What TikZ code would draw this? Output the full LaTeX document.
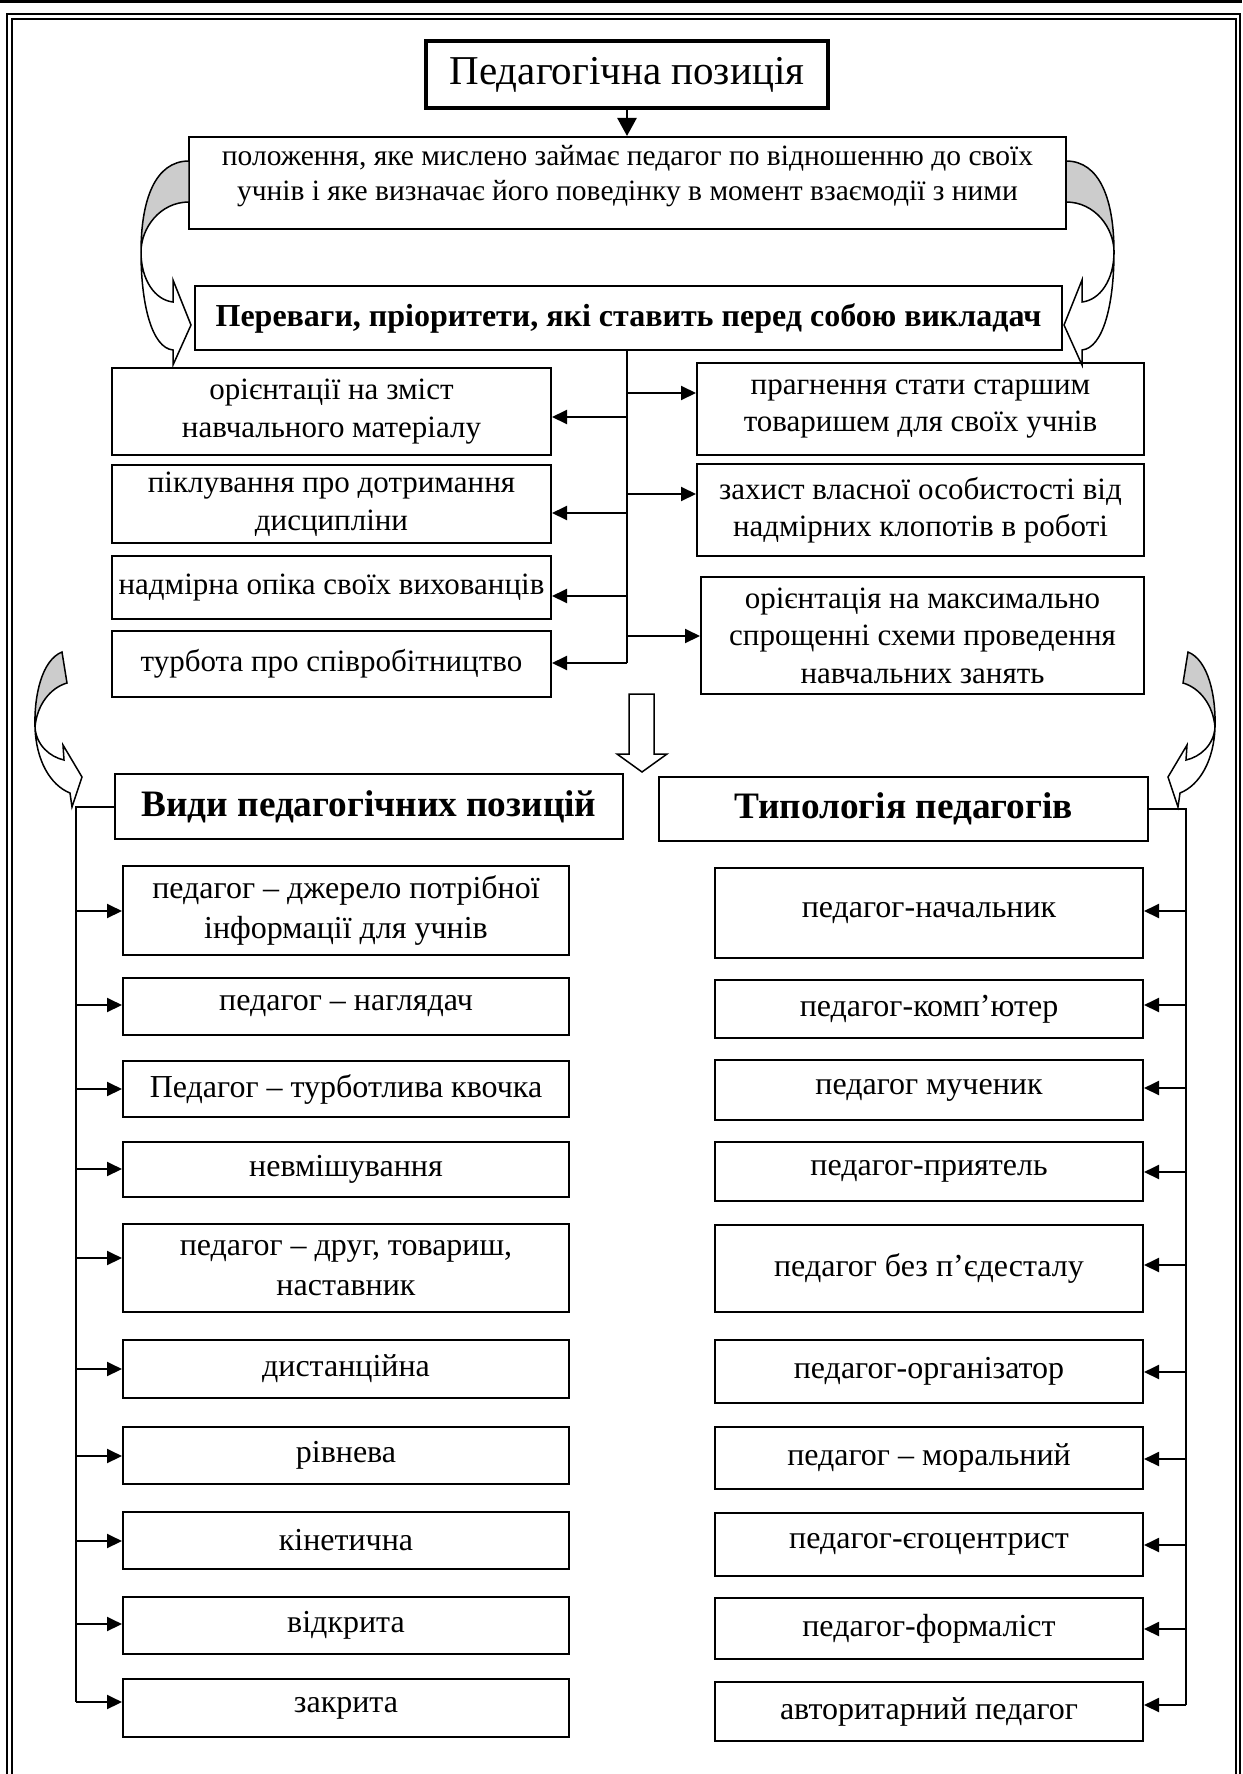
\documentclass[tikz,border=0pt]{standalone}
\usepackage{fontspec}
\setmainfont{Liberation Serif}
\usetikzlibrary{arrows.meta}
\definecolor{arrgray}{RGB}{204,204,204}
\newcommand{\deffont}{\fontsize{29.5}{35}\selectfont}
\newcommand{\midfont}{\fontsize{31}{37.5}\selectfont}
\newcommand{\lowfont}{\fontsize{32}{40}\selectfont}
\newcommand{\titlefont}{\fontsize{41}{48}\selectfont}
\newcommand{\headfont}{\fontsize{37.3}{44}\selectfont\bfseries}
\newcommand{\priorfont}{\fontsize{32}{38}\selectfont\bfseries}
\newcommand{\raisedtext}[2]{\raisebox{#1}[\height][\depth]{\begin{tabular}{@{}c@{}}#2\end{tabular}}}
\begin{document}
\begin{tikzpicture}[x=1pt,y=-1pt,
  box/.style={draw, line width=2pt, inner sep=0pt, align=center, font=\lowfont},
  midbox/.style={box, font=\midfont},
  conn/.style={line width=2pt},
  arr/.style={line width=2pt, -{Triangle[length=15pt,width=14pt]}},
  bigarr/.style={line width=2.5pt, -{Triangle[length=18pt,width=19pt]}},
  curv/.style={line width=1.5pt, line join=miter},
]
\useasboundingbox (0,0) rectangle (1242,1774);
% page rule and frame
\draw[line width=3pt] (0,1.5) -- (1242,1.5);
\draw[line width=2.5pt] (7,1780) -- (7,14) -- (1240,14) -- (1240,1780);
\draw[line width=1.2pt] (12,1780) -- (12,19) -- (1236,19) -- (1236,1780);

% top part
\node[box, line width=4.5pt, minimum width=402, minimum height=67, font=\titlefont] (title) at (627,74.5) {Педагогічна позиція};
\node[box, minimum width=877, minimum height=92, font=\deffont] (def) at (627.5,183)
  {\raisedtext{7pt}{положення, яке мислено займає педагог по відношенню до своїх\\учнів і яке визначає його поведінку в момент взаємодії з ними}};
\node[box, minimum width=867, minimum height=64, font=\priorfont] (prior) at (628.5,318)
  {Переваги, пріоритети, які ставить перед собою викладач};
\draw[bigarr] (title.south -| 627,0) -- (def.north -| 627,0);

% curved arrows top
\draw[curv, fill=arrgray] (189,161) .. controls (155,161) and (141,200) .. (141,252)
  .. controls (141,228) and (160,202) .. (189,202) -- cycle;
\draw[curv, fill=white] (141,252) .. controls (141,280) and (155,300) .. (173,302)
  -- (173,280) -- (191,325) -- (173,365) -- (173,350)
  .. controls (152,348) and (141,305) .. (141,252) -- cycle;
\begin{scope}[shift={(1255,0)}, xscale=-1]
\draw[curv, fill=arrgray] (189,161) .. controls (155,161) and (141,200) .. (141,252)
  .. controls (141,228) and (160,202) .. (189,202) -- cycle;
\draw[curv, fill=white] (141,252) .. controls (141,280) and (155,300) .. (173,302)
  -- (173,280) -- (191,325) -- (173,365) -- (173,350)
  .. controls (152,348) and (141,305) .. (141,252) -- cycle;
\end{scope}

% middle boxes
\node[midbox, minimum width=439, minimum height=87] (m1) at (331.5,411.5) {орієнтації на зміст\\навчального матеріалу};
\node[midbox, minimum width=439, minimum height=78] (m2) at (331.5,504) {піклування про дотримання\\дисципліни};
\node[midbox, minimum width=439, minimum height=63] (m3) at (331.5,587.5) {надмірна опіка своїх вихованців};
\node[midbox, minimum width=439, minimum height=66] (m4) at (331.5,664) {турбота про співробітництво};
\node[midbox, minimum width=447, minimum height=92] (n1) at (920.5,409) {прагнення стати старшим\\товаришем для своїх учнів};
\node[midbox, minimum width=447, minimum height=92] (n2) at (920.5,510) {захист власної особистості від\\надмірних клопотів в роботі};
\node[midbox, minimum width=443, minimum height=117] (n3) at (922.5,635.5) {орієнтація на максимально\\спрощенні схеми проведення\\навчальних занять};

\coordinate (T) at (627,663);
\draw[conn] (prior.south -| T) -- (T);
\draw[arr] (T |- 0,417) -- (m1.east |- 0,417);
\draw[arr] (T |- 0,513) -- (m2.east |- 0,513);
\draw[arr] (T |- 0,596) -- (m3.east |- 0,596);
\draw[arr] (T) -- (m4.east |- T);
\draw[arr] (T |- 0,393) -- (n1.west |- 0,393);
\draw[arr] (T |- 0,494) -- (n2.west |- 0,494);
\draw[arr] (T |- 0,636) -- (n3.west |- 0,636);

% hollow down arrow
\draw[line width=1.5pt, fill=white, line join=miter] (629,694) -- (654,694) -- (654,754) -- (667,754)
  -- (642,772) -- (617,754) -- (629,754) -- cycle;

% headers
\node[box, minimum width=508, minimum height=65, font=\headfont] (vidy) at (369,806.5) {Види педагогічних позицій};
\node[box, minimum width=489, minimum height=64, font=\headfont] (typo) at (903.5,809) {Типологія педагогів};

% bottom curved arrows
\draw[curv, fill=arrgray] (62,652) .. controls (42,660) and (34,695) .. (35,727)
  .. controls (37,705) and (50,688) .. (67,683) -- cycle;
\draw[curv, fill=white] (35,727) .. controls (36,745) and (50,757) .. (64,760)
  -- (63,745) -- (82,777) -- (72,807) -- (70,793)
  .. controls (50,785) and (36,760) .. (35,727) -- cycle;
\begin{scope}[shift={(1250,0)}, xscale=-1]
\draw[curv, fill=arrgray] (62,652) .. controls (42,660) and (34,695) .. (35,727)
  .. controls (37,705) and (50,688) .. (67,683) -- cycle;
\draw[curv, fill=white] (35,727) .. controls (36,745) and (50,757) .. (64,760)
  -- (63,745) -- (82,777) -- (72,807) -- (70,793)
  .. controls (50,785) and (36,760) .. (35,727) -- cycle;
\end{scope}

% lower lists
\coordinate (LT) at (76,1702);
\coordinate (RT) at (1186,1705);
\draw[conn] (vidy.west) -- (vidy.west -| LT) -- (LT);
\draw[conn] (typo.east) -- (typo.east -| RT) -- (RT);

\foreach \i/\cy/\h/\ay/\t in {
  1/910.5/89/911/{педагог – джерело потрібної\\інформації для учнів},
  2/1006.5/57/1005/{педагог – наглядач},
  3/1089/56/1089/{Педагог – турботлива квочка},
  4/1169.5/55/1169/{невмішування},
  5/1268/88/1258/{педагог – друг, товариш,\\наставник},
  6/1369/58/1369/{дистанційна},
  7/1455.5/57/1456/{рівнева},
  8/1540.5/57/1541/{кінетична},
  9/1625.5/57/1624/{відкрита},
  10/1708/58/1702/{закрита}}{
  \node[box, minimum width=446, minimum height=\h] (a\i) at (346,\cy) {\t};
  \draw[arr] (LT |- 0,\ay) -- (a\i.west |- 0,\ay);
}
\foreach \i/\cy/\h/\ay/\t in {
  1/913/90/911/{педагог-начальник},
  2/1009/58/1005/{педагог-комп’ютер},
  3/1090/60/1088/{педагог мученик},
  4/1171.5/59/1172/{педагог-приятель},
  5/1268.5/87/1265/{педагог без п’єдесталу},
  6/1371.5/63/1372/{педагог-організатор},
  7/1458/62/1459/{педагог – моральний},
  8/1544.5/63/1545/{педагог-єгоцентрист},
  9/1628.5/61/1629/{педагог-формаліст},
  10/1711.5/59/1705/{авторитарний педагог}}{
  \node[box, minimum width=428, minimum height=\h] (b\i) at (929,\cy) {\t};
  \draw[arr] (RT |- 0,\ay) -- (b\i.east |- 0,\ay);
}
\end{tikzpicture}
\end{document}
